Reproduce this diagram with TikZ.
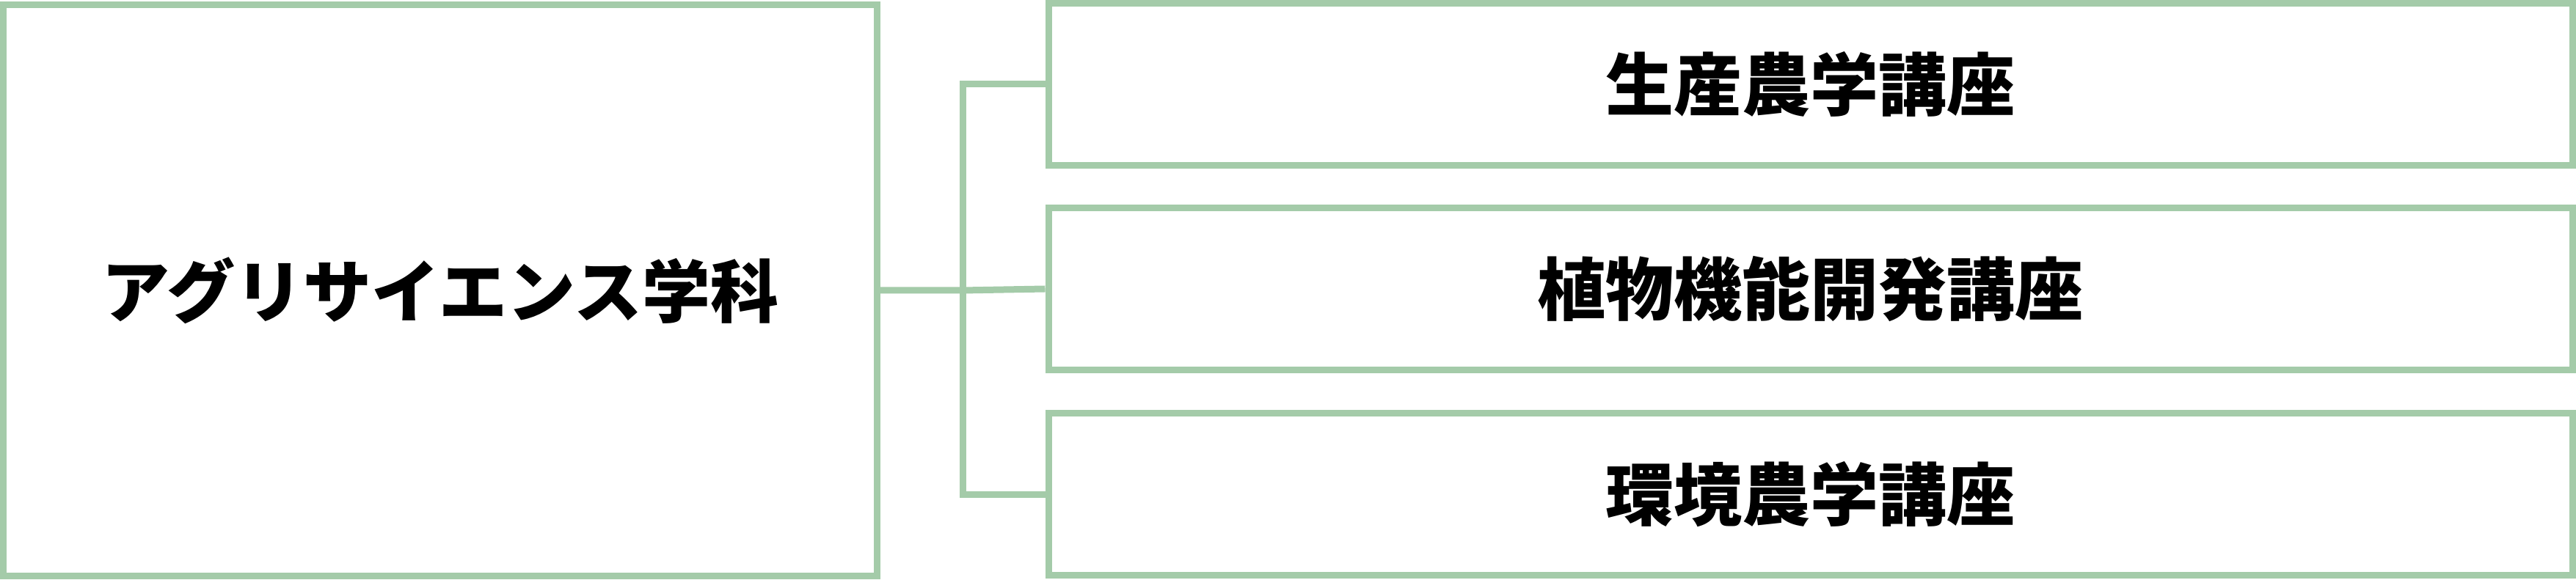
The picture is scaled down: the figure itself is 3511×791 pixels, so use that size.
\documentclass[tikz,border=0pt]{standalone}
\usepackage{fontspec}
\newfontfamily\cjk{Noto Sans CJK JP}
\definecolor{boxgreen}{RGB}{164,203,169}
\tikzset{
  box/.style={draw=boxgreen, line width=9pt, inner sep=0pt, align=center,
    font=\cjk\bfseries\fontsize{93pt}{93pt}\selectfont},
  link/.style={draw=boxgreen, line width=9pt}
}
\begin{document}
\begin{tikzpicture}[x=1pt,y=1pt]
\useasboundingbox (0,0) rectangle (3511,791);
\node[box, minimum width=1191pt, minimum height=779pt] (L) at (600,395) {\raisebox{3pt}{アグリサイエンス学科}};
\node[box, minimum width=2077pt, minimum height=221pt] (T) at (2467.5,676) {\raisebox{5pt}{生産農学講座}};
\node[box, minimum width=2077pt, minimum height=221pt] (M) at (2467.5,397) {\raisebox{4pt}{植物機能開発講座}};
\node[box, minimum width=2077pt, minimum height=221.5pt] (B) at (2467.5,116.75) {\raisebox{4pt}{環境農学講座}};
\coordinate (j) at (1312.5,395);
\draw[link] (L.east) -- (j) -- (M.west);
\draw[link] (T.west) -| (j) |- (B.west);
\end{tikzpicture}
\end{document}
